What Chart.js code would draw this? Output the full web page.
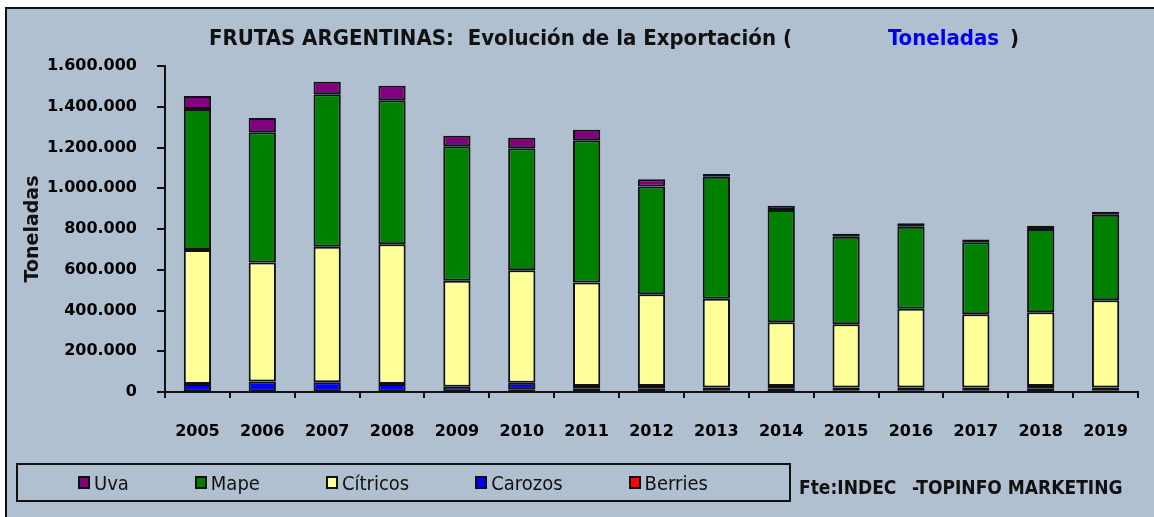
<!DOCTYPE html>
<html>
<head>
<meta charset="utf-8">
<script src="https://cdn.jsdelivr.net/npm/chart.js@4.4.1/dist/chart.umd.min.js"></script>
<style>
  body { margin: 0; background: #fff; width: 1154px; height: 517px; overflow: hidden; position: relative;
         font-family: "Liberation Sans Narrow", "DejaVu Sans Condensed", sans-serif; }
  #frame { position: absolute; left: 5px; top: 7px; width: 1200px; height: 560px; background: #B0C0D1;
           border-left: 2px solid #111; border-top: 2px solid #111; }
  #chartCanvas { position: absolute; left: 0; top: 0; }
  #title { position: absolute; top: 25px; left: 0; width: 1154px; height: 30px; font-weight: bold; font-size: 22px; color: #111; }
  #title span { position: absolute; white-space: pre; }
  #legend { position: absolute; left: 16px; top: 463px; width: 771px; height: 35px; border: 2px solid #111; }
  #legend ul { list-style: none; margin: 0; padding: 0 0 0 60px; display: flex; align-items: center; height: 100%; gap: 66px; }
  #legend li { display: flex; align-items: center; font-size: 20px; color: #111; }
  #legend .box { width: 8px; height: 9px; border: 2px solid #111; margin-right: 4px; }
  #source span { position: absolute; top: 476px; font-size: 19px; font-weight: bold; color: #111; white-space: pre; }
</style>
</head>
<body>
<div id="frame"></div>
<canvas id="chartCanvas" width="1154" height="517"></canvas>
<div id="title">
  <span style="left:209px">FRUTAS ARGENTINAS:  Evolución de la Exportación (</span>
  <span style="left:888px; color:#0000ee">Toneladas</span>
  <span style="left:1010px">)</span>
</div>
<div id="legend"></div>
<div id="source"><span style="left:799px">Fte:INDEC</span><span style="left:912px">-TOPINFO MARKETING</span></div>
<script>
// ===================== data (toneladas) =====================
const years = ['2005','2006','2007','2008','2009','2010','2011','2012','2013','2014','2015','2016','2017','2018','2019'];

const berries  = [1000, 1000, 1000, 1000, 3000, 14000, 18000, 18000, 8000, 18000, 8000, 8000, 8000, 18000, 8000];
const carozos  = [38000, 50000, 47000, 38000, 23000, 32000, 12000, 12000, 14000, 12000, 14000, 14000, 14000, 12000, 14000];
const citricos = [658000, 584000, 665000, 686000, 520000, 551000, 508000, 450000, 436000, 312000, 310000, 387000, 359000, 361000, 428000];
const mape     = [692000, 640000, 748000, 707000, 660000, 599000, 697000, 528000, 599000, 551000, 430000, 402000, 354000, 409000, 420000];
const uva      = [64000, 70000, 62000, 71000, 52000, 52000, 52000, 36000, 13000, 21000, 15000, 17000, 14000, 16000, 15000];

const yTicksMax = 1600000;
const yTicksStep = 200000;

// ===================== helpers =====================
function miles(v) {
  return v.toString().replace(/\B(?=(\d{3})+(?!\d))/g, '.');
}

// html legend with a border box, like the excel one
const htmlLegend = {
  id: 'htmlLegend',
  afterUpdate(chart) {
    const box = document.getElementById('legend');
    box.innerHTML = '';
    const ul = document.createElement('ul');
    const items = chart.options.plugins.legend.labels.generateLabels(chart).reverse();
    items.forEach(item => {
      const li = document.createElement('li');
      const sq = document.createElement('span');
      sq.className = 'box';
      sq.style.background = item.fillStyle;
      li.appendChild(sq);
      li.appendChild(document.createTextNode(item.text));
      ul.appendChild(li);
    });
    box.appendChild(ul);
  }
};

const common = { borderColor: '#111', borderWidth: 2, borderSkipped: false, barPercentage: 0.42, categoryPercentage: 1 };

var ctx = document.getElementById('chartCanvas').getContext('2d');

const chart = new Chart(ctx, {
  type: 'bar',
  data: {
    labels: years,
    datasets: [
      Object.assign({ label: 'Berries', data: berries, backgroundColor: '#FF0000' }, common),
      Object.assign({ label: 'Carozos', data: carozos, backgroundColor: '#0000FF' }, common),
      Object.assign({ label: 'Cítricos', data: citricos, backgroundColor: '#FFFF99' }, common),
      Object.assign({ label: 'Mape', data: mape, backgroundColor: '#008000' }, common),
      Object.assign({ label: 'Uva', data: uva, backgroundColor: '#800080' }, common)
    ]
  },
  options: {
    responsive: false,
    animation: false,
    layout: { padding: { left: 8, top: 66, right: 16, bottom: 75 } },
    plugins: {
      legend: { display: false },
      tooltip: { enabled: false }
    },
    scales: {
      x: {
        stacked: true,
        afterFit: s => { s.height = 50; },
        grid: { display: true, drawOnChartArea: false, drawTicks: true, tickLength: 6, color: '#111', lineWidth: 2 },
        border: { display: true, color: '#111', width: 2 },
        ticks: { color: '#000', padding: 24, font: { family: 'DejaVu Sans', size: 16, weight: 'bold' } }
      },
      y: {
        stacked: true,
        min: 0,
        max: yTicksMax,
        afterFit: s => { s.width = 157; },
        grid: { display: true, drawOnChartArea: false, drawTicks: true, tickLength: 8, color: '#111', lineWidth: 2 },
        border: { display: true, color: '#111', width: 2 },
        ticks: { stepSize: yTicksStep, color: '#000', padding: 20, callback: v => miles(v),
                 font: { family: 'DejaVu Sans', size: 16, weight: 'bold' } },
        title: { display: true, text: 'Toneladas', color: '#111', padding: { top: 14, bottom: 0 },
                 font: { family: 'DejaVu Sans', size: 19, weight: 'bold' } }
      }
    }
  },
  plugins: [htmlLegend]
});
</script>
</body>
</html>
